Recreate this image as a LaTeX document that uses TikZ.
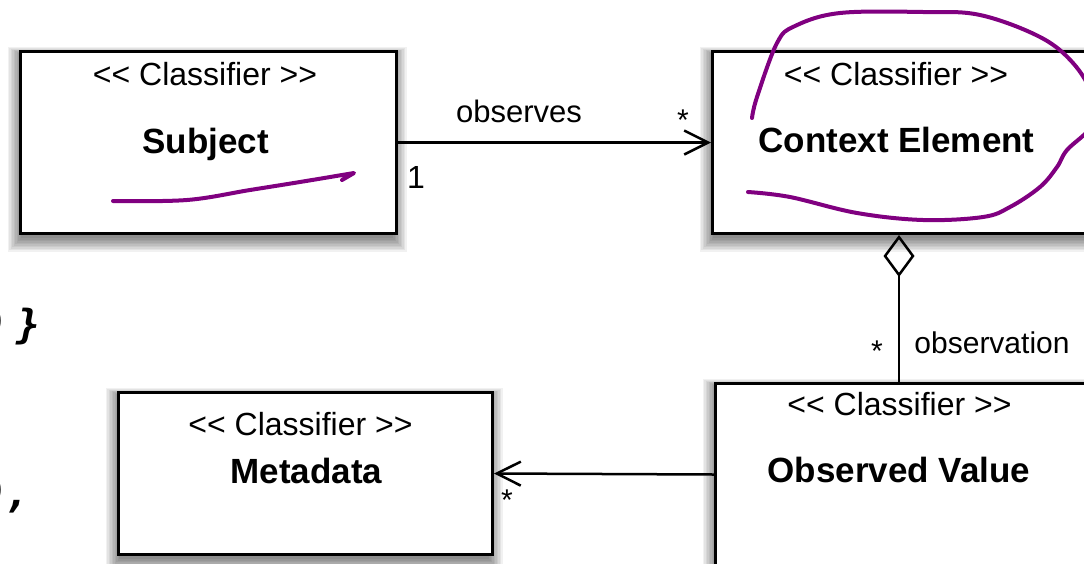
\documentclass[tikz,border=0pt]{standalone}
\usepackage{fontspec}
\setmainfont{Liberation Sans}
\newfontfamily\codefont{DejaVu Sans Mono}
\usetikzlibrary{arrows.meta}
\definecolor{annot}{RGB}{128,0,128}
\newcommand{\stereotext}{<{}< Classifier >{}>}
\newcommand{\softshadow}[4]{%
  \foreach \k in {0,1.5,...,13.5} {
    \fill[black, opacity=0.055] (#1-\k+2,#2+4-\k*0.5) rectangle (#3+\k-2,#4+6+\k);
  }}
\begin{document}
\begin{tikzpicture}[x=1pt,y=-1pt,
  umlbox/.style={draw=black, line width=3pt, fill=white, rectangle, inner sep=0pt, anchor=north west},
  stereo/.style={font=\fontsize{32}{32}\selectfont, anchor=base, inner sep=0pt},
  cname/.style={font=\fontsize{35}{35}\selectfont\bfseries, anchor=base, inner sep=0pt},
  lbl/.style={font=\fontsize{31}{31}\selectfont, anchor=base, inner sep=0pt},
  mult/.style={font=\fontsize{30}{30}\selectfont, inner sep=0pt},
  conn/.style={draw=black, line width=2.5pt},
  openarrow/.style={-{Straight Barb[length=24pt,width=24pt]}},
  frag/.style={font=\fontsize{40}{40}\selectfont\codefont\bfseries\itshape, inner sep=0pt},
  annotline/.style={draw=annot, line width=4pt, line cap=round, line join=round}]
\useasboundingbox (0,0) rectangle (1084,563);
\fill[white] (0,0) rectangle (1084,563);

% shadows
\softshadow{19}{50}{395}{232}
\softshadow{711}{50}{1095}{232}
\softshadow{714}{382}{1095}{563}
\softshadow{117}{391}{491}{553}

% boxes
\node[umlbox, minimum width=376pt, minimum height=182pt] (subject) at (19,50) {};
\node[umlbox, minimum width=380pt, minimum height=182pt] (context) at (711,50) {};
\node[umlbox, minimum width=380pt, minimum height=182pt] (observed) at (714,382) {};
\node[umlbox, minimum width=374pt, minimum height=162pt] (metadata) at (117,391) {};

% texts
\node[stereo] (s1) at (205,85) {\stereotext};
\node[cname] (s2) at (205.5,153) {Subject};
\node[stereo] (c1) at (896,85) {\stereotext};
\node[cname] (c2) at (896.5,152) {Context Element};
\node[stereo] (o1) at (899.5,415) {\stereotext};
\node[cname] (o2) at (899,482) {Observed Value};
\node[stereo] (m1) at (300.5,435) {\stereotext};
\node[cname] (m2) at (306.5,483) {Metadata};

% connectors
\coordinate (dx) at (899,0);
\draw[conn, openarrow] (subject.east) -- (context.west);
\draw[conn, {Diamond[open,length=42pt,width=31pt]}-] (context.south -| dx) -- (observed.north -| dx);
\draw[conn, openarrow] (observed.west) -- (metadata.east);

% labels
\node[lbl] (l1) at (519,122) {observes};
\node[lbl, font=\fontsize{32}{32}\selectfont] (l2) at (416,188) {1};
\node[mult] (l3) at (683,120) {*};
\node[lbl, font=\fontsize{30}{30}\selectfont] (l4) at (992,353) {observation};
\node[mult] (l5) at (877,351) {*};
\node[mult] (l6) at (507,500) {*};

% fragments at left edge
\node[frag, anchor=base east] (f1) at (9,338) {)};
\node[frag, anchor=base west] (f2) at (16,338) {\}};
\node[frag, anchor=base east] (f3) at (9,507) {)};
\node[frag, anchor=base west] (f4) at (5,507) {,};
\node[frag, anchor=base east] (f5) at (7,561) {.};

% purple annotations
\draw[annotline] plot[smooth, tension=0.6] coordinates {(113,201) (187,200) (250,190) (300,182) (354,173)} -- (342,180);
\draw[annotline] plot[smooth, tension=0.6] coordinates {(752,118) (757,97) (777,43) (795,26) (840,13) (923,12) (980,15) (1040,37) (1073,63) (1092,95) (1092,125) (1067,150) (1057,167) (1040,187) (1010,207) (983,217) (923,220) (857,213) (790,197) (748,192)};
\end{tikzpicture}
\end{document}
